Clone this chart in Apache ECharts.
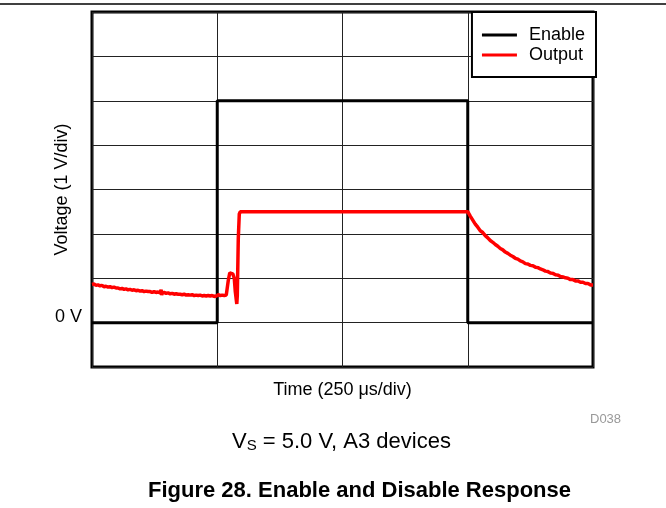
<!DOCTYPE html>
<html>
<head>
<meta charset="utf-8">
<script src="https://cdn.jsdelivr.net/npm/echarts@6/dist/echarts.min.js"></script>
<style>
html,body{margin:0;padding:0;background:#fff;}
#chart{width:666px;height:508px;}
</style>
</head>
<body>
<div id="chart"></div>
<script>
// Time axis: 250 µs per division, 4 divisions; voltage: 1 V/div, -1..7 V
const xTicks = [0, 250, 500, 750, 1000];
const yTickValues = [0];
const yTickLabels = ['0 V'];
const seriesNames = ['Enable', 'Output'];

// Enable step signal (µs, V)
const enablePoints = [[0, 0], [250, 0], [250, 5], [750, 5], [750, 0], [1000, 0]];

// Output (µs, V)
const outputPoints = [
  [0,0.86],[4,0.87],[8,0.84],[12,0.85],[16,0.83],[20,0.84],[24,0.81],[28,0.82],
  [32,0.80],[36,0.81],[40,0.79],[44,0.80],[48,0.78],[52,0.78],[56,0.76],[60,0.77],
  [64,0.75],[68,0.76],[72,0.74],[76,0.75],[80,0.73],[84,0.74],[88,0.72],[92,0.73],
  [96,0.71],[100,0.72],[104,0.70],[108,0.71],[112,0.70],[116,0.70],[120,0.68],[124,0.70],
  [128,0.68],[132,0.69],[136,0.67],[138,0.74],[139,0.62],[140,0.67],[144,0.68],[148,0.66],
  [152,0.67],[156,0.65],[160,0.66],[164,0.64],[168,0.65],[172,0.64],[176,0.64],[180,0.63],
  [184,0.64],[188,0.62],[192,0.63],[196,0.62],[200,0.63],[204,0.61],[208,0.62],[212,0.61],
  [216,0.62],[220,0.60],[224,0.61],[228,0.60],[232,0.61],[236,0.60],[240,0.61],[244,0.59],
  [248,0.60],[250,0.57],[252,0.63],[256,0.61],[260,0.62],[264,0.61],[268,0.62],[270,0.63],
  [272,0.95],[275,1.12],[278,1.15],[281,1.10],[284,1.00],[286,0.70],[289,0.42],[290,0.60],
  [292,1.90],[294,2.45],[296,2.50],[400,2.50],[500,2.50],[600,2.50],[700,2.50],[750,2.50],
  [755,2.40],[760,2.31],[765,2.22],[770,2.15],[775,2.07],[780,2.03],[785,1.96],[790,1.91],
  [795,1.85],[800,1.81],[805,1.76],[810,1.72],[815,1.67],[820,1.64],[825,1.59],[830,1.56],
  [835,1.52],[840,1.49],[845,1.45],[850,1.43],[855,1.39],[860,1.37],[865,1.33],[870,1.32],
  [875,1.29],[880,1.28],[885,1.25],[890,1.24],[895,1.21],[900,1.19],[905,1.16],[910,1.15],
  [915,1.12],[920,1.11],[925,1.08],[930,1.07],[935,1.04],[940,1.03],[945,1.01],[950,1.00],
  [955,0.97],[960,0.97],[965,0.94],[970,0.94],[975,0.91],[980,0.91],[985,0.88],[990,0.88],
  [995,0.85],[1000,0.85]
];

const FONT = 'Liberation Sans';
const chart = echarts.init(document.getElementById('chart'), null, {renderer: 'canvas'});

const option = {
  animation: false,
  backgroundColor: '#fff',
  grid: {
    left: 92, top: 12, width: 501, height: 355,
    show: true, borderColor: '#000', borderWidth: 3, backgroundColor: 'transparent'
  },
  xAxis: {
    type: 'value', min: xTicks[0], max: xTicks[xTicks.length - 1], interval: 250,
    name: 'Time (250 \u03bcs/div)', nameLocation: 'middle', nameGap: 14,
    nameMoveOverlap: false,
    nameTextStyle: {fontFamily: FONT, fontSize: 18, color: '#000', verticalAlign: 'top'},
    axisLine: {show: false}, axisTick: {show: false}, axisLabel: {show: false},
    splitLine: {show: true, lineStyle: {color: '#222', width: 1}}
  },
  yAxis: {
    type: 'value', min: -1, max: 7, interval: 1,
    name: 'Voltage (1 V/div)', nameLocation: 'middle', nameGap: 21,
    nameMoveOverlap: false,
    nameTextStyle: {fontFamily: FONT, fontSize: 18, color: '#000'},
    axisLine: {show: false}, axisTick: {show: false},
    axisLabel: {
      show: true, margin: 10, fontFamily: FONT, fontSize: 18, color: '#000',
      verticalAlign: 'bottom', lineHeight: 12,
      formatter: function (v) {
        const i = yTickValues.indexOf(v);
        return i >= 0 ? yTickLabels[i] : '';
      }
    },
    splitLine: {show: true, lineStyle: {color: '#222', width: 1}}
  },
  legend: {
    orient: 'vertical', right: 70, top: 12,
    data: seriesNames,
    icon: 'rect', itemWidth: 35, itemHeight: 3, itemGap: 2,
    padding: [14, 11, 13, 10],
    borderColor: '#000', borderWidth: 2, backgroundColor: '#fff',
    textStyle: {fontFamily: FONT, fontSize: 18, color: '#000', padding: [0, 0, 0, 7]}
  },
  title: [
    {
      text: '{v|V}{s|S}{v| = 5.0 V, A3 devices}', left: 232, top: 430, padding: 0,
      textStyle: {
        fontWeight: 'normal',
        rich: {
          v: {fontFamily: FONT, fontSize: 22, fontWeight: 'normal', color: '#000'},
          s: {fontFamily: FONT, fontSize: 15, fontWeight: 'normal', color: '#000', padding: [8, 0, 0, 0]}
        }
      }
    },
    {
      text: 'Figure 28. Enable and Disable Response', left: 148, top: 480, padding: 0,
      textStyle: {fontFamily: FONT, fontSize: 22, fontWeight: 'bold', color: '#000'}
    },
    {
      text: 'D038', left: 590, top: 413, padding: 0,
      textStyle: {fontFamily: FONT, fontSize: 13, fontWeight: 'normal', color: '#999'}
    }
  ],
  graphic: [
    {type: 'line', shape: {x1: 0, y1: 4, x2: 666, y2: 4}, style: {stroke: '#000', lineWidth: 1.5}}
  ],
  series: [
    {
      name: seriesNames[0], type: 'line', data: enablePoints, symbol: 'none',
      lineStyle: {color: '#000', width: 3}, itemStyle: {color: '#000'}, z: 2
    },
    {
      name: seriesNames[1], type: 'line', data: outputPoints, symbol: 'none',
      lineStyle: {color: '#ff0000', width: 3.5}, itemStyle: {color: '#ff0000'}, z: 3
    }
  ]
};
chart.setOption(option);
</script>
</body>
</html>
